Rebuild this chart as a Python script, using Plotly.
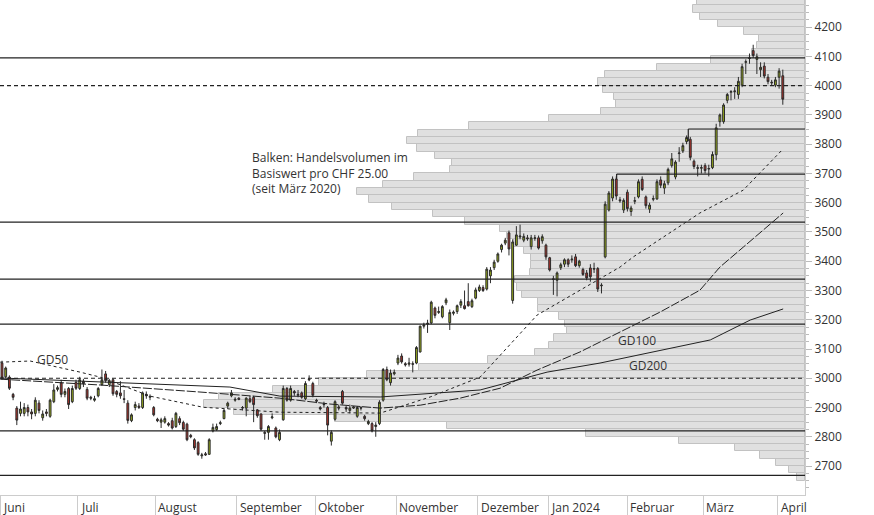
import plotly.graph_objects as go

# daily candles, Juni 2023 - April 2024 (trading day index)
opens = [3052, 3005, 3004, 2945, 2898, 2880, 2880, 2900, 2885, 2880, 2915, 2865, 2885, 2870, 2920, 2962, 2985, 2945, 2965, 2920,
         2986, 2965, 2990, 2962, 2935, 2925, 2940, 2978, 3015, 2978, 2995, 2955, 2950, 2930, 2915, 2855, 2900, 2905, 2900, 2945,
         2935, 2900, 2860, 2850, 2850, 2845, 2855, 2835, 2862, 2849, 2843, 2805, 2790, 2780, 2735, 2742, 2740, 2820, 2825, 2845,
         2862, 2905, 2940, 2925, 2932, 2898, 2898, 2930, 2935, 2892, 2878, 2815, 2815, 2865, 2830, 2790, 2858, 2965, 2925, 2955,
         2942, 2950, 2930, 2998, 2982, 2925, 2900, 2912, 2900, 2785, 2860, 2902, 2955, 2900, 2890, 2898, 2870, 2900, 2870, 2845,
         2845, 2835, 2845, 2925, 3030, 2985, 3015, 3052, 3076, 3050, 3048, 3050, 3052, 3090, 3178, 3185, 3189, 3240, 3225, 3210,
         3258, 3190, 3222, 3228, 3250, 3248, 3262, 3245, 3274, 3300, 3310, 3305, 3350, 3378, 3400, 3440, 3462, 3497, 3266, 3455,
         3483, 3472, 3480, 3450, 3478, 3480, 3470, 3455, 3412, 3340, 3335, 3378, 3390, 3405, 3405, 3415, 3385, 3372, 3360, 3377,
         3373, 3375, 3316, 3415, 3575, 3616, 3681, 3610, 3575, 3636, 3570, 3605, 3620, 3680, 3620, 3578, 3612, 3613, 3678, 3650,
         3668, 3727, 3688, 3768, 3777, 3809, 3817, 3742, 3720, 3718, 3727, 3715, 3720, 3764, 3877, 3877, 3950, 3978, 3980, 3970,
         4002, 4080, 4093, 4120, 4090, 4055, 4067, 4029, 4012, 4002, 4029, 4034]
highs = [3060, 3040, 3010, 2950, 2905, 2920, 2915, 2910, 2895, 2935, 2925, 2890, 2895, 2930, 2980, 2975, 2995, 2965, 2970, 2975,
         2995, 3005, 2998, 2970, 2940, 2940, 2970, 3030, 3025, 2998, 3000, 2960, 2990, 2960, 2925, 2880, 2920, 2915, 2955, 2955,
         2945, 2905, 2865, 2865, 2870, 2850, 2865, 2885, 2870, 2855, 2848, 2810, 2795, 2785, 2745, 2748, 2795, 2845, 2845, 2855,
         2895, 2920, 2960, 2935, 2935, 2905, 2935, 2940, 2940, 2895, 2880, 2820, 2840, 2880, 2835, 2825, 2975, 2970, 2975, 2960,
         2960, 2955, 2990, 3010, 2988, 2930, 2905, 2920, 2905, 2822, 2925, 2910, 2960, 2905, 2910, 2905, 2905, 2905, 2875, 2858,
         2850, 2850, 2925, 3035, 3040, 3030, 3030, 3080, 3085, 3055, 3070, 3058, 3110, 3180, 3190, 3200, 3265, 3245, 3245, 3250,
         3275, 3235, 3232, 3252, 3270, 3300, 3325, 3272, 3310, 3320, 3318, 3380, 3380, 3405, 3430, 3460, 3480, 3505, 3475, 3520,
         3525, 3495, 3490, 3490, 3490, 3488, 3492, 3460, 3415, 3350, 3365, 3395, 3410, 3410, 3420, 3425, 3405, 3378, 3370, 3390,
         3395, 3380, 3325, 3605, 3640, 3690, 3690, 3620, 3615, 3645, 3590, 3620, 3680, 3690, 3625, 3600, 3625, 3680, 3690, 3675,
         3720, 3770, 3745, 3790, 3805, 3830, 3825, 3748, 3730, 3730, 3735, 3730, 3775, 3870, 3905, 3940, 3975, 3985, 3995, 4030,
         4075, 4090, 4110, 4140, 4110, 4080, 4080, 4040, 4020, 4030, 4060, 4055]
lows = [2995, 3000, 2960, 2925, 2840, 2870, 2870, 2870, 2860, 2870, 2880, 2855, 2870, 2865, 2915, 2955, 2935, 2935, 2895, 2915,
        2960, 2960, 2970, 2925, 2925, 2920, 2935, 2975, 2985, 2970, 2940, 2935, 2930, 2915, 2845, 2850, 2890, 2895, 2895, 2930,
        2925, 2870, 2850, 2830, 2845, 2835, 2825, 2830, 2840, 2820, 2785, 2795, 2755, 2735, 2725, 2735, 2738, 2815, 2820, 2840,
        2860, 2895, 2935, 2920, 2925, 2890, 2870, 2915, 2850, 2865, 2820, 2790, 2790, 2860, 2795, 2785, 2855, 2920, 2920, 2940,
        2935, 2930, 2925, 2990, 2935, 2915, 2890, 2900, 2805, 2770, 2855, 2890, 2910, 2885, 2880, 2895, 2865, 2890, 2855, 2840,
        2815, 2800, 2840, 2920, 2990, 2975, 3010, 3045, 3050, 3040, 3040, 3020, 3048, 3088, 3170, 3155, 3185, 3205, 3220, 3205,
        3250, 3165, 3215, 3220, 3240, 3235, 3245, 3240, 3270, 3295, 3295, 3300, 3325, 3370, 3395, 3430, 3455, 3420, 3255, 3453,
        3475, 3465, 3470, 3440, 3470, 3440, 3460, 3405, 3365, 3285, 3280, 3370, 3380, 3380, 3395, 3380, 3378, 3350, 3335, 3330,
        3360, 3295, 3290, 3410, 3570, 3605, 3610, 3600, 3565, 3570, 3555, 3595, 3615, 3640, 3580, 3565, 3605, 3610, 3650, 3630,
        3660, 3720, 3680, 3740, 3770, 3800, 3745, 3715, 3690, 3700, 3700, 3690, 3715, 3745, 3860, 3870, 3940, 3950, 3955, 3955,
        3995, 4040, 4075, 4095, 4040, 4030, 4025, 4005, 4000, 3995, 3990, 3935]
closes = [3001, 3035, 2966, 2935, 2857, 2895, 2900, 2885, 2878, 2925, 2890, 2878, 2880, 2925, 2960, 2968, 2945, 2955, 2910, 2965,
          2966, 2995, 2982, 2932, 2932, 2930, 2965, 2995, 2992, 2992, 2947, 2945, 2940, 2928, 2856, 2875, 2910, 2900, 2950, 2940,
          2938, 2875, 2855, 2858, 2862, 2840, 2830, 2880, 2848, 2826, 2790, 2800, 2762, 2740, 2738, 2738, 2790, 2832, 2835, 2848,
          2890, 2915, 2950, 2928, 2928, 2900, 2932, 2920, 2910, 2872, 2826, 2812, 2835, 2868, 2800, 2815, 2965, 2925, 2965, 2950,
          2945, 2935, 2982, 2995, 2942, 2922, 2895, 2910, 2840, 2815, 2920, 2898, 2915, 2895, 2898, 2902, 2900, 2898, 2862, 2852,
          2820, 2840, 2918, 3030, 2995, 3018, 3020, 3069, 3056, 3046, 3052, 3048, 3105, 3178, 3182, 3188, 3260, 3215, 3228, 3245,
          3268, 3225, 3226, 3248, 3262, 3238, 3248, 3265, 3302, 3312, 3300, 3373, 3370, 3397, 3425, 3455, 3472, 3442, 3466, 3490,
          3486, 3485, 3477, 3480, 3480, 3445, 3484, 3415, 3370, 3338, 3360, 3388, 3405, 3390, 3407, 3385, 3400, 3355, 3343, 3347,
          3375, 3305, 3318, 3595, 3633, 3681, 3623, 3607, 3608, 3580, 3582, 3607, 3672, 3645, 3590, 3592, 3614, 3672, 3660, 3665,
          3714, 3750, 3739, 3770, 3795, 3823, 3755, 3724, 3718, 3720, 3710, 3717, 3765, 3856, 3900, 3934, 3970, 3980, 3982, 4015,
          4065, 4082, 4095, 4103, 4099, 4063, 4033, 4014, 4010, 4020, 4050, 3954]

# moving averages (trading day index, price)
gd50_x = [-0.5, 7.6, 21.1, 26.5, 40, 54.3, 75.1, 102.2, 105.7, 115.7, 129.2, 140.8, 144.6, 167, 170.5, 188.6, 200.3, 211.1]
gd50_y = [3055, 3059, 3021, 3004, 2939, 2901, 2884, 2881, 2895, 2936, 3004, 3165, 3216, 3380, 3414, 3565, 3643, 3784]
gd100_x = [-0.5, 26.5, 53.5, 75.1, 88.6, 102.2, 113, 123.8, 134.6, 144.6, 156.2, 167, 177.8, 188.6, 194, 200.3, 205.7, 211.1]
gd100_y = [2997, 2977, 2953, 2932, 2912, 2898, 2908, 2932, 2966, 3028, 3090, 3158, 3226, 3301, 3380, 3448, 3507, 3565]
gd200_x = [-0.5, 26.5, 61.6, 75.1, 102.2, 129.2, 147.3, 161.6, 167, 191.4, 202.2, 211.1]
gd200_y = [3001, 2987, 2970, 2939, 2936, 2960, 3021, 3052, 3066, 3131, 3199, 3237]

# volume profile per CHF 25 bin (lower bound of bin)
bins = list(range(2650, 4300, 25))
volume = [8, 16, 29, 45, 70, 126, 219, 358, 470, 571, 601, 586, 532, 486, 438, 386, 317, 270, 256, 251,
          238, 240, 246, 267, 267, 283, 288, 290, 275, 274, 274, 281, 291, 298, 305, 340, 372, 413, 436, 448,
          422, 391, 355, 353, 370, 388, 398, 387, 336, 256, 204, 189, 191, 202, 207, 200, 148, 94, 53, 48,
          46, 61, 87, 105, 112, 108]

levels_full = [4095, 3534, 3339, 3185, 2820, 2668]
levels_dashed = [4000, 3000]

months = ["Juni", "Juli", "August", "September", "Oktober", "November", "Dezember",
          "Jan 2024", "Februar", "März", "April"]
month_pos = [-0.5, 20.5, 41.4, 63.5, 84.6, 106.5, 128.6, 147.6, 168.9, 189.5, 209.7]

fig = go.Figure()

fig.add_trace(go.Bar(
    y=[b + 12.5 for b in bins], x=volume, orientation="h", width=25,
    marker=dict(color="#e0e0e0", line=dict(color="#c2c2c2", width=1)),
    xaxis="x", yaxis="y", hoverinfo="skip", showlegend=False,
))

idx = list(range(len(closes)))
fig.add_trace(go.Candlestick(
    x=idx, open=opens, high=highs, low=lows, close=closes,
    increasing=dict(fillcolor="#9bb01c", line=dict(color="#2b2b2b", width=1)),
    decreasing=dict(fillcolor="#b3322a", line=dict(color="#2b2b2b", width=1)),
    whiskerwidth=0, xaxis="x2", yaxis="y", showlegend=False, hoverinfo="skip",
))

for xs, ys, dash in [(gd50_x, gd50_y, "3px,3px"), (gd100_x, gd100_y, "9px,2px"), (gd200_x, gd200_y, "solid")]:
    fig.add_trace(go.Scatter(x=xs, y=ys, mode="lines", line=dict(color="#222", width=1, dash=dash),
                             xaxis="x2", yaxis="y", showlegend=False, hoverinfo="skip"))

for lv in levels_full:
    fig.add_shape(type="line", xref="paper", yref="y", x0=0, x1=1, y0=lv, y1=lv,
                  line=dict(color="#222", width=1.2))
for lv in levels_dashed:
    fig.add_shape(type="line", xref="paper", yref="y", x0=0, x1=1, y0=lv, y1=lv,
                  line=dict(color="#222", width=1.2, dash="4px,3px"))
# resistance marks
for x0, lv, lo in [(0.855, 3852, 3810), (0.766, 3698, 3680)]:
    fig.add_shape(type="line", xref="paper", yref="y", x0=x0, x1=1, y0=lv, y1=lv,
                  line=dict(color="#222", width=1.2))
    fig.add_shape(type="line", xref="paper", yref="y", x0=x0, x1=x0, y0=lv, y1=lo,
                  line=dict(color="#222", width=1.2))

txt = dict(family="Open Sans, sans-serif", size=12, color="#333")
fig.add_annotation(x=0.311, y=3790, xref="paper", yref="y", xanchor="left", yanchor="top", showarrow=False,
                   align="left", font=txt,
                   text="Balken: Handelsvolumen im<br>Basiswert pro CHF 25.00<br>(seit März 2020)")
for label, xp, yv in [("GD50", 9, 3065), ("GD100", 166, 3130), ("GD200", 169, 3045)]:
    fig.add_annotation(x=xp, y=yv, xref="x2", yref="y", xanchor="left", showarrow=False, font=txt, text=label)
for m, p in zip(months, month_pos):
    fig.add_annotation(x=p, y=0, xref="x2", yref="paper", xanchor="left", yanchor="top", yshift=-2, xshift=1,
                       showarrow=False, font=txt, text=m)

fig.update_layout(
    width=874, height=515, margin=dict(l=0, r=69, t=0, b=20),
    paper_bgcolor="white", plot_bgcolor="white", bargap=0,
    font=txt,
    xaxis=dict(range=[805, 0], visible=False, fixedrange=True, automargin=False),
    xaxis2=dict(overlaying="x", range=[-0.54, 217.0], side="bottom", showgrid=False, zeroline=False,
                rangeslider=dict(visible=False), tickvals=month_pos, showticklabels=False, automargin=False,
                ticks="outside", ticklen=20, tickcolor="#ccc", showline=True, linecolor="#ccc"),
    yaxis=dict(range=[2601, 4293], side="right", showgrid=False, zeroline=False, automargin=False,
               tickvals=list(range(2700, 4300, 100)), ticks="outside", ticklen=6, tickcolor="#bbb",
               showline=True, linecolor="#ccc",
               minor=dict(dtick=25, ticks="outside", ticklen=3, tickcolor="#bbb")),
)

fig.write_html("out.html", config={"displayModeBar": False},
               post_script="document.body.style.margin='0';document.body.style.overflow='hidden';")
